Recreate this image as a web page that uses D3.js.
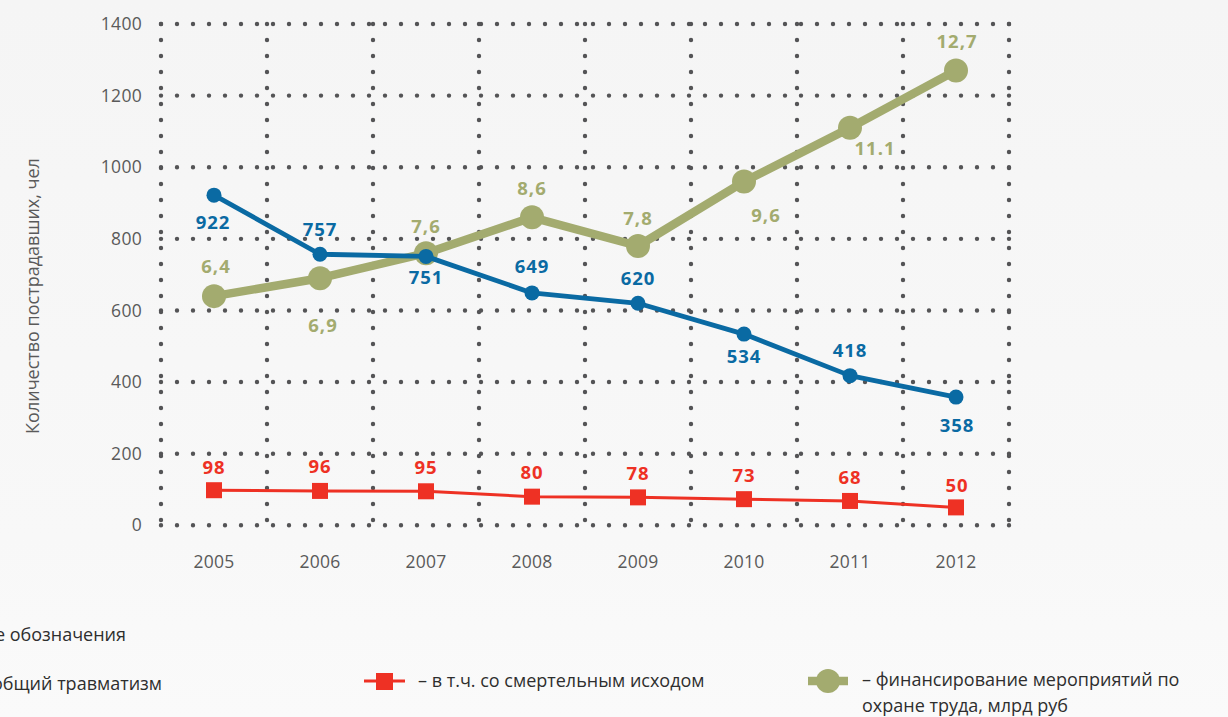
<!DOCTYPE html>
<html lang="ru">
<head>
<meta charset="utf-8">
<script src="https://cdn.jsdelivr.net/npm/d3@7"></script>
<style>
  html, body { margin: 0; padding: 0; overflow: hidden; }
  body { width: 1228px; height: 717px; }
  svg { display: block; font-family: "Open Sans", "Noto Sans", sans-serif; }
</style>
</head>
<body>
<svg id="chart" width="1228" height="717"></svg>
<script>
// Годы наблюдения
const years = ["2005", "2006", "2007", "2008", "2009", "2010", "2011", "2012"];
// Общий травматизм, чел
const injuries = [922, 757, 751, 649, 620, 534, 418, 358];
// В т.ч. со смертельным исходом, чел
const fatal = [98, 96, 95, 80, 78, 73, 68, 50];
// Финансирование мероприятий по охране труда, млрд руб
const funding = [6.4, 6.9, 7.6, 8.6, 7.8, 9.6, 11.1, 12.7];
const fundingLabels = ["6,4", "6,9", "7,6", "8,6", "7,8", "9,6", "11.1", "12,7"];
// Деления оси Y
const yTicks = [0, 200, 400, 600, 800, 1000, 1200, 1400];

const BLUE = "#0a6aa3", RED = "#ee3124", GREEN = "#a3ab6f", GRID = "#545456";
const TXT = "#5a5a5a";

const svg = d3.select("#chart");

// фон
const defs = svg.append("defs");
const grad = defs.append("linearGradient").attr("id", "bg").attr("x1", 0).attr("y1", 0).attr("x2", 0).attr("y2", 1);
grad.append("stop").attr("offset", "0").attr("stop-color", "#f5f5f5");
grad.append("stop").attr("offset", "0.75").attr("stop-color", "#f8f8f8");
grad.append("stop").attr("offset", "1").attr("stop-color", "#fafafa");
svg.append("rect").attr("width", 1228).attr("height", 717).attr("fill", "url(#bg)");

const x = d3.scaleBand().domain(years).range([161, 1009]).padding(0);
const y = d3.scaleLinear().domain([0, 1400]).range([525.3, 24]);
const cx = d => x(d) + x.bandwidth() / 2;

// точечная сетка
const grid = svg.append("g")
  .attr("stroke", GRID).attr("stroke-width", 4.4)
  .attr("stroke-linecap", "round").attr("stroke-dasharray", "0 16").attr("fill", "none");
grid.selectAll("line.h").data(yTicks).join("line").attr("class", "h")
  .attr("x1", 161).attr("x2", 1010).attr("y1", d => y(d)).attr("y2", d => y(d));
const bounds = years.map(d => x(d)).concat([x(years[years.length - 1]) + x.bandwidth()]);
grid.selectAll("line.v").data(bounds).join("line").attr("class", "v")
  .attr("x1", d => d).attr("x2", d => d).attr("y1", y(1400)).attr("y2", y(0) + 1);

// оси
const yAxis = svg.append("g").attr("transform", "translate(161,0)")
  .call(d3.axisLeft(y).tickValues(yTicks).tickFormat(d3.format("d")).tickSize(0).tickPadding(19));
const xAxis = svg.append("g").attr("transform", `translate(0,${y(0)})`)
  .call(d3.axisBottom(x).tickSize(0).tickPadding(30));
[yAxis, xAxis].forEach(a => {
  a.select(".domain").remove();
  a.selectAll("text").attr("fill", TXT).attr("font-size", 17.5).attr("letter-spacing", 0.3)
    .attr("font-family", "'Open Sans', sans-serif");
});

svg.append("text")
  .attr("transform", "translate(39,296) rotate(-90)")
  .attr("text-anchor", "middle").attr("fill", TXT).attr("font-size", 18)
  .text("Количество пострадавших, чел");

const line = d3.line().x(d => cx(d.year)).y(d => y(d.v));

// финансирование (млрд руб × 100 на общей шкале)
const fundPts = years.map((yr, i) => ({ year: yr, v: funding[i] * 100, label: fundingLabels[i] }));
svg.append("path").datum(fundPts).attr("d", line)
  .attr("fill", "none").attr("stroke", GREEN).attr("stroke-width", 8.5).attr("stroke-linejoin", "round");
svg.selectAll("circle.fund").data(fundPts).join("circle").attr("class", "fund")
  .attr("cx", d => cx(d.year)).attr("cy", d => y(d.v)).attr("r", 12).attr("fill", GREEN);

// общий травматизм
const injPts = years.map((yr, i) => ({ year: yr, v: injuries[i], label: String(injuries[i]) }));
svg.append("path").datum(injPts).attr("d", line)
  .attr("fill", "none").attr("stroke", BLUE).attr("stroke-width", 4.8).attr("stroke-linejoin", "round");
svg.selectAll("circle.inj").data(injPts).join("circle").attr("class", "inj")
  .attr("cx", d => cx(d.year)).attr("cy", d => y(d.v)).attr("r", 7.5).attr("fill", BLUE);

// смертельные случаи
const fatPts = years.map((yr, i) => ({ year: yr, v: fatal[i], label: String(fatal[i]) }));
svg.append("path").datum(fatPts).attr("d", line)
  .attr("fill", "none").attr("stroke", RED).attr("stroke-width", 3);
svg.selectAll("rect.fat").data(fatPts).join("rect").attr("class", "fat")
  .attr("x", d => cx(d.year) - 8).attr("y", d => y(d.v) - 8).attr("width", 16).attr("height", 16).attr("fill", RED);

// подписи значений: смещение центра подписи от точки
function labels(pts, color, offs, cls) {
  svg.selectAll("text." + cls).data(pts).join("text").attr("class", cls)
    .attr("x", (d, i) => cx(d.year) + offs[i][0])
    .attr("y", (d, i) => y(d.v) + offs[i][1] + 6.5)
    .attr("text-anchor", "middle").attr("font-weight", 700).attr("font-size", 18.5)
    .attr("letter-spacing", 1).attr("fill", color).text(d => d.label);
}
labels(injPts, BLUE, [[-1, 27], [0, -25], [0, 21], [0, -26], [0, -25], [0, 22], [0, -25], [1, 28]], "li");
labels(fundPts, GREEN, [[2, -30], [3, 47], [0, -27], [0, -29], [0, -28], [22, 34], [25, 21], [1, -29]], "lf");
labels(fatPts, RED, [[0, -23], [0, -24], [0, -24], [0, -24], [0, -24], [0, -24], [0, -23], [1, -22]], "lr");

// легенда
const leg = svg.append("g").attr("fill", "#2e2e2e").attr("font-size", 18);
leg.append("text").attr("x", 126).attr("y", 641).attr("text-anchor", "end").text("Условные обозначения");

const lb = leg.append("g");
lb.append("text").attr("x", 162).attr("y", 690).attr("text-anchor", "end").text("– общий травматизм");
lb.append("line").attr("x1", -110).attr("x2", -70).attr("y1", 681).attr("y2", 681).attr("stroke", BLUE).attr("stroke-width", 4.5);
lb.append("circle").attr("cx", -90).attr("cy", 681).attr("r", 7).attr("fill", BLUE);

leg.append("line").attr("x1", 364).attr("x2", 405).attr("y1", 681).attr("y2", 681).attr("stroke", RED).attr("stroke-width", 3);
leg.append("rect").attr("x", 376).attr("y", 673).attr("width", 17).attr("height", 17).attr("fill", RED);
leg.append("text").attr("x", 418).attr("y", 687).text("– в т.ч. со смертельным исходом");

leg.append("line").attr("x1", 808).attr("x2", 848).attr("y1", 681).attr("y2", 681).attr("stroke", GREEN).attr("stroke-width", 8.5);
leg.append("circle").attr("cx", 828).attr("cy", 681).attr("r", 12).attr("fill", GREEN);
leg.append("text").attr("x", 862).attr("y", 686).text("– финансирование мероприятий по");
leg.append("text").attr("x", 862).attr("y", 712).text("охране труда, млрд руб");
</script>
</body>
</html>
